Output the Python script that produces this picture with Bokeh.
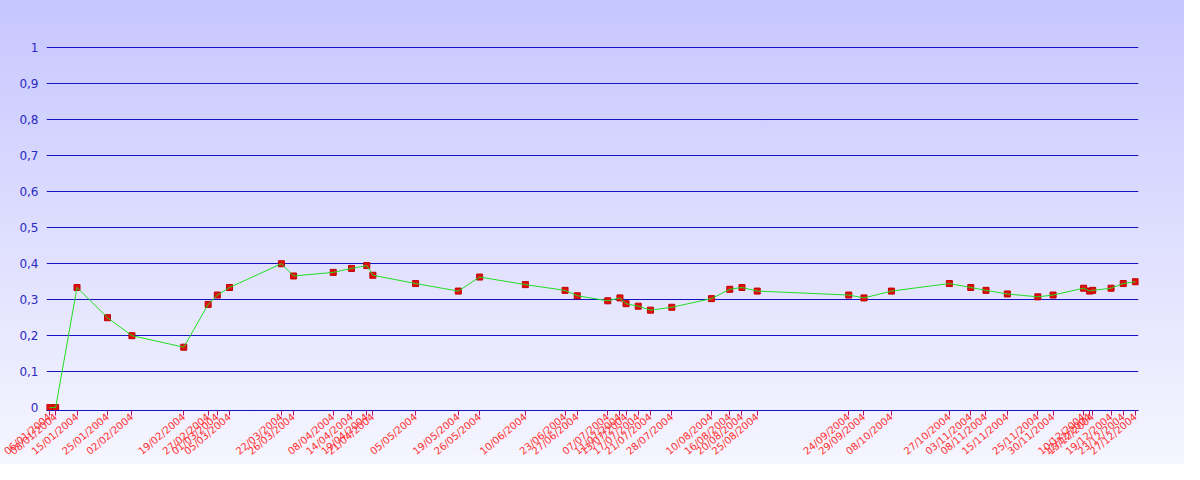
import pandas as pd
from bokeh.plotting import figure
from bokeh.models import (ColumnDataSource, FixedTicker, Range1d,
                          CustomJSTickFormatter)
from bokeh.embed import file_html
from bokeh.resources import INLINE

dates = ["06/01/2004", "08/01/2004", "15/01/2004", "25/01/2004", "02/02/2004",
         "19/02/2004", "27/02/2004", "01/03/2004", "05/03/2004", "22/03/2004",
         "26/03/2004", "08/04/2004", "14/04/2004", "19/04/2004", "21/04/2004",
         "05/05/2004", "19/05/2004", "26/05/2004", "10/06/2004", "23/06/2004",
         "27/06/2004", "07/07/2004", "11/07/2004", "13/07/2004", "17/07/2004",
         "21/07/2004", "28/07/2004", "10/08/2004", "16/08/2004", "20/08/2004",
         "25/08/2004", "24/09/2004", "29/09/2004", "08/10/2004", "27/10/2004",
         "03/11/2004", "08/11/2004", "15/11/2004", "25/11/2004", "30/11/2004",
         "10/12/2004", "12/12/2004", "13/12/2004", "19/12/2004", "23/12/2004",
         "27/12/2004"]
values = [0.0, 0.0, 0.334, 0.25, 0.2,
          0.168, 0.287, 0.313, 0.334, 0.4,
          0.366, 0.376, 0.387, 0.395, 0.368,
          0.345, 0.324, 0.363, 0.342, 0.326,
          0.311, 0.297, 0.305, 0.289, 0.282,
          0.271, 0.279, 0.303, 0.329, 0.334,
          0.324, 0.313, 0.305, 0.324, 0.345,
          0.334, 0.326, 0.316, 0.308, 0.313,
          0.332, 0.324, 0.326, 0.332, 0.345,
          0.35]
y_ticks = [0, 0.1, 0.2, 0.3, 0.4, 0.5, 0.6, 0.7, 0.8, 0.9, 1.0]

xs = pd.to_datetime(dates, format="%d/%m/%Y")
tick_ms = [float(d.value // 10**6) for d in xs]
src = ColumnDataSource(dict(x=xs, y=values))

day = pd.Timedelta(days=1)
p = figure(width=1184, height=464, x_axis_type="datetime",
           output_backend="svg", toolbar_location=None,
           x_range=Range1d(xs[0] - day, xs[-1] + day),
           y_range=Range1d(-0.008, 1.004),
           min_border_left=46, min_border_right=46,
           min_border_top=46, min_border_bottom=40)
p.styles = {"background": "linear-gradient(to bottom, #c6c6ff 0%, #f6f6ff 100%)"}
p.background_fill_color = None
p.border_fill_color = None
p.outline_line_color = None

# grid
p.xgrid.grid_line_color = None
p.ygrid.grid_line_color = "#1414c4"
p.ygrid.grid_line_width = 1
p.ygrid.ticker = FixedTicker(ticks=y_ticks[1:])

# y axis
p.yaxis.ticker = FixedTicker(ticks=y_ticks)
p.yaxis.formatter = CustomJSTickFormatter(
    code="return (Math.round(tick*10)/10).toString().replace('.', ',');")
p.yaxis.axis_line_color = None
p.yaxis.major_tick_line_color = None
p.yaxis.minor_tick_line_color = None
p.yaxis.major_label_text_color = "#2a2ac0"
p.yaxis.major_label_text_font = "DejaVu Sans"
p.yaxis.major_label_text_font_size = "12px"
p.yaxis.major_label_standoff = 2

# x axis
p.xaxis.ticker = FixedTicker(ticks=tick_ms)
p.xaxis.formatter = CustomJSTickFormatter(
    args=dict(tvals=tick_ms, tlabels=dates),
    code="""
let best = -1, bd = Infinity;
for (let i = 0; i < tvals.length; i++) {
  const d = Math.abs(tvals[i] - tick);
  if (d < bd) { bd = d; best = i; }
}
return (best >= 0 && bd < 3600000) ? tlabels[best] : '';
""")
p.xaxis.axis_line_color = "#1414c4"
p.xaxis.major_tick_line_color = "#b8106a"
p.xaxis.major_tick_in = 0
p.xaxis.major_tick_out = 5
p.xaxis.minor_tick_line_color = None
p.xaxis.major_label_orientation = 0.70
p.xaxis.major_label_standoff = 0
p.xaxis.major_label_text_font = "DejaVu Sans"
p.xaxis.major_label_text_font_size = "10px"
p.xaxis.major_label_text_color = "#ff3030"

p.scatter("x", "y", source=src, marker="square", size=6,
          fill_color="#e01010", line_color="#c00000")
p.line("x", "y", source=src, line_color="#22dd22", line_width=1)

open("out.html", "w").write(file_html(p, INLINE))
